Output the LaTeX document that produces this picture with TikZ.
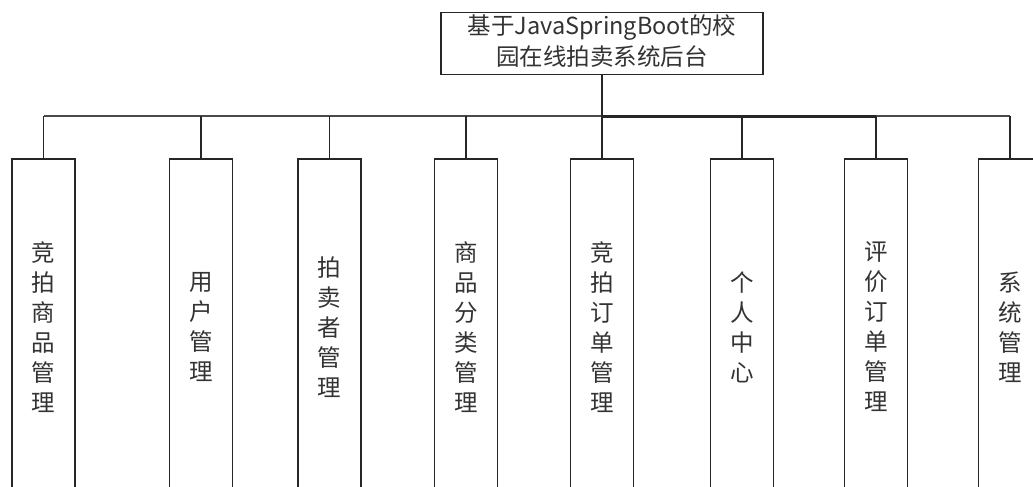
\documentclass[tikz,border=0pt]{standalone}
\usepackage{fontspec}
\setmainfont{Noto Sans CJK SC}
\definecolor{linec}{HTML}{262626}
\definecolor{busc}{HTML}{4A4A4A}
\definecolor{textc}{HTML}{333333}
\begin{document}
\begin{tikzpicture}[x=1pt,y=-1pt,
  box/.style={draw=linec,line width=1.8pt,minimum width=63pt,minimum height=336pt,
    inner sep=0pt,text width=30pt,align=center,anchor=north,
    font=\fontsize{23.5}{30}\selectfont,text=textc},
  titlebox/.style={draw=linec,line width=1.8pt,minimum width=322pt,minimum height=59pt,
    inner sep=0pt,align=center,font=\fontsize{23.5}{31}\selectfont,text=textc},
  conn/.style={draw=linec,line width=1.6pt},
  busthin/.style={draw=busc,line width=1.7pt},
  busthick/.style={draw=linec,line width=3pt}]
\clip (0,0) rectangle (1033,487);
\fill[white] (0,0) rectangle (1033,487);
\node[titlebox] (top) at (602,43.5) {\raisebox{-4pt}{\begin{tabular}{@{}c@{}}基于JavaSpringBoot的校\\园在线拍卖系统后台\end{tabular}}};
\coordinate (bus) at (0,116);
\node[box] (b1) at (43.5,158) {竞\\拍\\商\\品\\管\\理};
\node[box] (b2) at (201,158) {用\\户\\管\\理};
\node[box] (b3) at (329.5,158) {拍\\卖\\者\\管\\理};
\node[box] (b4) at (466,158) {商\\品\\分\\类\\管\\理};
\node[box] (b5) at (602,158) {竞\\拍\\订\\单\\管\\理};
\node[box] (b6) at (742,158) {个\\人\\中\\心};
\node[box] (b7) at (876,158) {评\\价\\订\\单\\管\\理};
\node[box] (b8) at (1010,158) {系\\统\\管\\理};
\draw[busthin] (b1.north |- bus) -- (b8.north |- bus);
\draw[busthick] (top.south |- bus) -- (b7.north |- bus);
\draw[conn] (top.south) -- (top.south |- bus);
\foreach \n in {b1,b2,b3,b4,b5,b6,b7,b8}
  \draw[conn] (\n.north) -- (\n.north |- bus);
\end{tikzpicture}
\end{document}
